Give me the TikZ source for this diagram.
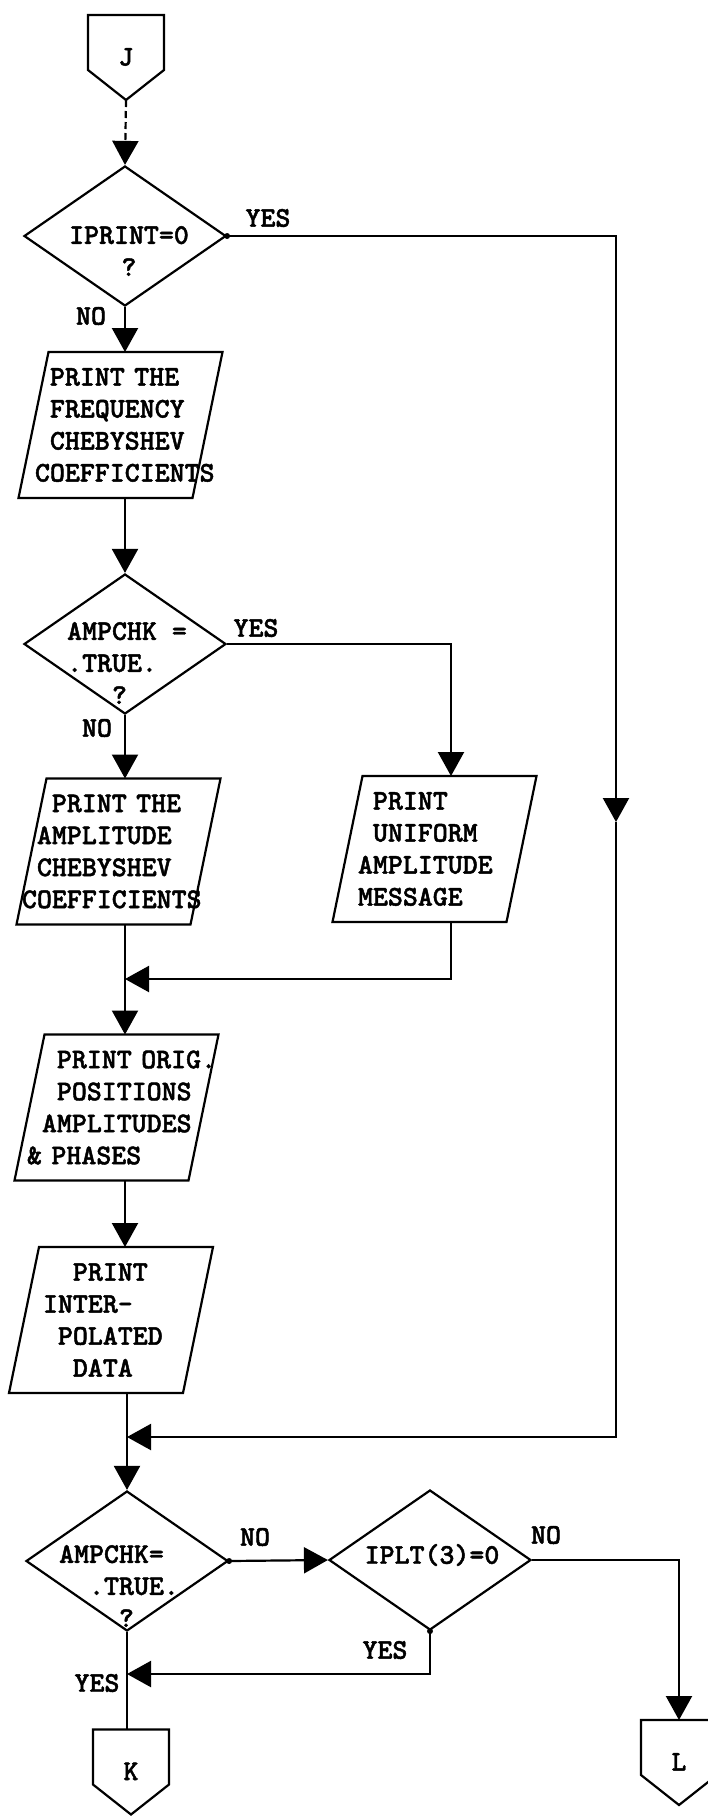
\documentclass[tikz,border=0pt]{standalone}
\usepackage{fontspec}
\newfontfamily\tw[FakeBold=1.6]{lmmonolt10-bold.otf}
\usepackage{tikz}
\usetikzlibrary{calc,positioning,shapes.geometric,arrows.meta}

% slanted print box drawn over a (hidden) rectangle node
\newcommand{\prtbox}[1]{\draw ($(#1.north west)+(30,0)$) -- (#1.north east) -- ($(#1.south east)+(-30,0)$) -- (#1.south west) -- cycle;}
% off-page connector: body plus pointed bottom
\newcommand{\pgtip}[1]{\draw (#1.north west) -- (#1.north east) -- (#1.south east) -- ($(#1.south)+(0,30)$) -- (#1.south west) -- cycle;}

\begin{document}
\begin{tikzpicture}[x=1pt, y=-1pt, line width=2.2pt,
		>={Triangle[width=26pt,length=24pt]},
		every node/.style={font=\tw\fontsize{28.5}{32}\selectfont},
		dec/.style={diamond, draw, inner sep=0pt, minimum width=202pt, minimum height=140pt},
		dtxt/.style={inner sep=0pt, align=center},
		prt/.style={rectangle, inner sep=0pt, outer sep=0pt, minimum width=204pt, minimum height=146pt, align=left},
		pgc/.style={rectangle, inner sep=0pt, outer sep=0pt, minimum width=76pt, minimum height=55pt, text height=46pt, text depth=0pt}]
		
		\useasboundingbox (0,0) rectangle (708,1816);
		
		% =========================================================
		% Entry J and first test
		% =========================================================
		\node[pgc] (J) at (126,42.5) {J};
		\pgtip{J}
		\coordinate (Jtip) at ($(J.south)+(0,30)$);
		
		\node[dec] (d1) at (125,236) {};
		\node[dtxt] (t1) at (129,251) {IPRINT=0\\?};
		\node (yes1) at (268,218) {YES};
		\node (no1) at (91,316) {NO};
		
		\node[prt, text width=171pt] (freq) at (120.5,425)
		{\phantom{x}PRINT~THE\\\phantom{x}FREQUENCY\\\phantom{x}CHEBYSHEV\\COEFFICIENTS};
		\prtbox{freq}
		
		% =========================================================
		% Amplitude test and its two branches
		% =========================================================
		\node[dec] (d2) at (125,644) {};
		\node[dtxt, align=left] (t2) at (127,663) {AMPCHK~=\\.TRUE.\\\phantom{xxx}?};
		\node (yes2) at (256,628) {YES};
		\node (no2) at (97,728) {NO};
		
		\node[prt, text width=193pt] (amp) at (118.5,851.5)
		{\phantom{xx}PRINT~THE\\\phantom{x}AMPLITUDE\\\phantom{x}CHEBYSHEV\\COEFFICIENTS};
		\prtbox{amp}
		
		\node[prt, text width=153pt] (unif) at (434.5,849)
		{\phantom{x}PRINT\\\phantom{x}UNIFORM\\AMPLITUDE\\MESSAGE};
		\prtbox{unif}
		
		% =========================================================
		% Positions and interpolated data
		% =========================================================
		\node[prt, text width=179pt] (orig) at (116.5,1107.5)
		{\phantom{xx}PRINT~ORIG.\\\phantom{xx}POSITIONS\\\phantom{x}AMPLITUDES\\\&~PHASES};
		\prtbox{orig}
		
		\node[prt, text width=136pt] (intp) at (111,1320)
		{\phantom{xx}PRINT\\INTER-\\\phantom{x}POLATED\\\phantom{xx}DATA};
		\prtbox{intp}
		
		% =========================================================
		% Plot tests and exits K, L
		% =========================================================
		\node[dec] (d3) at (127,1561) {};
		\node[dtxt, align=left] (t3) at (119,1586) {AMPCHK=\\\phantom{xx}.TRUE.\\\phantom{xxxx}?};
		\node (no3) at (255,1537) {NO};
		\node (yes3) at (97,1683) {YES};
		
		\node[dec] (d4) at (430,1560) {};
		\node[dtxt] (t4) at (432,1555) {IPLT(3)=0};
		\node (no4) at (546,1535) {NO};
		\node (yes4) at (385,1650) {YES};
		
		\node[pgc] (K) at (131,1757) {K};
		\pgtip{K}
		\node[pgc] (L) at (679,1747.5) {L};
		\pgtip{L}
		
		% Corner points of the long lines
		\coordinate (rtop) at (616,236);
		\coordinate (rmid) at (616,822);
		\coordinate (rbot) at (616,1437);
		\coordinate (ytop) at (451,644);
		\coordinate (ybot) at (451,979);
		\coordinate (ydn) at (430,1674);
		
		% Connectors
		\draw[->, dash pattern=on 7pt off 4pt] (Jtip) -- (d1.north);
		\draw[->] (d1.south) -- (d1.south |- freq.north);
		\draw[->] (d1.east) -- (rtop) -- (rmid);
		\draw[->] (rmid) -- (rbot) -- (rbot -| d3.north);
		\draw[->] (freq.south -| d2) -- (d2.north);
		\draw[->] (d2.east) -- (ytop) -- (ytop |- unif.north);
		\draw[->] (d2.south) -- (d2.south |- amp.north);
		\draw[->] (ytop |- unif.south) -- (ybot) -- (ybot -| d2);
		\draw[->] (amp.south -| d2) -- (d2 |- orig.north);
		\draw[->] (orig.south -| d2) -- (d2 |- intp.north);
		\draw[->] (intp.south -| d3) -- (d3.north);
		\draw[->] (d3.east) -- (d4.west);
		\draw[->] (d4.east) -| (L.north);
		\draw[->] (d4.south) -- (ydn) -- (ydn -| d3);
		\draw (d3.south) -- (d3.south |- K.north);
		
		% Junction dots
		\fill (d1.east) circle (3pt);
		\fill (d3.east) circle (3pt);
		\fill (d4.south) circle (3pt);
		
	\end{tikzpicture}
\end{document}
